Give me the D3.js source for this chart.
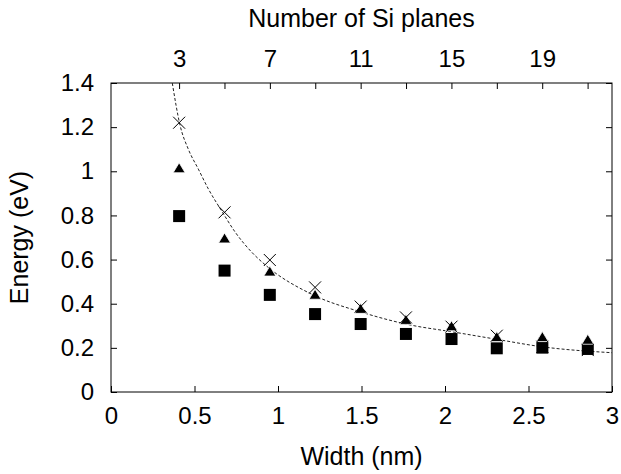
<!DOCTYPE html>
<html>
<head>
<meta charset="utf-8">
<script src="https://cdn.jsdelivr.net/npm/d3@7"></script>
<style>
  body { margin: 0; background: #fff; }
  text { font-family: "Liberation Sans", Arial, Helvetica, sans-serif; fill: #000; }
</style>
</head>
<body>
<div id="chart"></div>
<script>
// values
var planes = [3, 5, 7, 9, 11, 13, 15, 17, 19, 21];
var widths = [0.408, 0.68, 0.951, 1.222, 1.495, 1.766, 2.039, 2.31, 2.583, 2.855];
var crossE = [1.22, 0.814, 0.598, 0.474, 0.387, 0.338, 0.296, 0.255, 0.205, 0.19];
var triE   = [1.016, 0.698, 0.548, 0.443, 0.379, 0.329, 0.300, 0.251, 0.251, 0.239];
var sqE    = [0.797, 0.550, 0.440, 0.353, 0.308, 0.263, 0.240, 0.198, 0.201, 0.195];

// dashed fit curve
var fitW = [0.367, 0.413, 0.463, 0.523, 0.583, 0.663, 0.743, 0.842, 0.922, 1.21, 1.49, 1.79, 2.04, 2.3, 2.58, 3.0];
var fitE = [1.40, 1.21, 1.10, 1.01, 0.92, 0.82, 0.725, 0.634, 0.577, 0.44, 0.364, 0.304, 0.273, 0.24, 0.205, 0.178];

var xTicks = [0, 0.5, 1, 1.5, 2, 2.5, 3];
var yTicks = [0, 0.2, 0.4, 0.6, 0.8, 1, 1.2, 1.4];
var topLabels = [3, 7, 11, 15, 19];
var nmPerPlane = 0.1359;

var margin = {top: 83, right: 9, bottom: 82, left: 111},
    width = 621 - margin.left - margin.right,
    height = 474 - margin.top - margin.bottom;

var svg = d3.select("#chart").append("svg")
    .attr("width", 621)
    .attr("height", 474);

var chart = svg.append("g")
    .attr("transform", "translate(" + margin.left + "," + margin.top + ")");

var x = d3.scaleLinear().domain([0, 3]).range([0, width]);
var y = d3.scaleLinear().domain([0, 1.4]).range([height, 0]);
var xTop = d3.scaleLinear().domain([0, 3 / nmPerPlane]).range([0, width]);

var fmt = function(d) { return String(+d.toFixed(1)); };

function styleAxis(g) {
  g.select(".domain").remove();
  g.selectAll(".tick line").attr("stroke", "#000").attr("stroke-width", 1);
  g.selectAll(".tick text").style("font-size", "24px").attr("fill", "#000");
}

chart.append("g")
    .attr("transform", "translate(0," + height + ")")
    .call(d3.axisBottom(x).tickValues(xTicks).tickFormat(fmt).tickSizeInner(-6).tickSizeOuter(0).tickPadding(15))
    .call(styleAxis);

chart.append("g")
    .call(d3.axisLeft(y).tickValues(yTicks).tickFormat(fmt).tickSizeInner(-6).tickSizeOuter(0).tickPadding(17))
    .call(styleAxis);

chart.append("g")
    .attr("transform", "translate(" + width + ",0)")
    .call(d3.axisRight(y).tickValues(yTicks).tickFormat("").tickSizeInner(-6).tickSizeOuter(0))
    .call(styleAxis);

chart.append("g")
    .call(d3.axisTop(xTop).tickValues(planes)
      .tickFormat(function(d) { return topLabels.indexOf(d) >= 0 ? d : ""; })
      .tickSizeInner(-6).tickSizeOuter(0).tickPadding(16))
    .call(styleAxis);

chart.append("rect")
    .attr("width", width)
    .attr("height", height)
    .attr("fill", "none")
    .attr("stroke", "#000")
    .attr("stroke-width", 1);

chart.append("clipPath").attr("id", "clip")
  .append("rect").attr("width", width).attr("height", height);

var line = d3.line()
    .x(function(d) { return x(d); })
    .y(function(d, i) { return y(fitE[i]); })
    .curve(d3.curveMonotoneX);

chart.append("path")
    .attr("clip-path", "url(#clip)")
    .attr("d", line(fitW))
    .attr("fill", "none")
    .attr("stroke", "#222")
    .attr("stroke-width", 1)
    .attr("stroke-dasharray", "3,2");

chart.selectAll(".sq")
    .data(widths)
    .enter().append("rect")
    .attr("class", "sq")
    .attr("x", function(d) { return x(d) - 6; })
    .attr("y", function(d, i) { return y(sqE[i]) - 6; })
    .attr("width", 12)
    .attr("height", 12)
    .attr("fill", "#000");

chart.selectAll(".tri")
    .data(widths)
    .enter().append("path")
    .attr("class", "tri")
    .attr("d", function(d, i) {
      var cx = x(d), cy = y(triE[i]);
      return "M" + (cx - 6) + "," + (cy + 5) + "L" + (cx + 6) + "," + (cy + 5) + "L" + cx + "," + (cy - 5) + "Z";
    })
    .attr("fill", "#000")
    .attr("stroke", "#fff")
    .attr("stroke-width", 0.8);

chart.selectAll(".cross")
    .data(widths)
    .enter().append("path")
    .attr("class", "cross")
    .attr("d", function(d, i) {
      var cx = x(d), cy = y(crossE[i]);
      return "M" + (cx - 6) + "," + (cy - 6) + "L" + (cx + 6) + "," + (cy + 6) +
             "M" + (cx - 6) + "," + (cy + 6) + "L" + (cx + 6) + "," + (cy - 6);
    })
    .attr("fill", "none")
    .attr("stroke", "#000")
    .attr("stroke-width", 1);

svg.append("text")
    .attr("x", margin.left + width / 2)
    .attr("y", 465)
    .attr("text-anchor", "middle")
    .style("font-size", "25px")
    .text("Width (nm)");

svg.append("text")
    .attr("x", margin.left + width / 2)
    .attr("y", 27)
    .attr("text-anchor", "middle")
    .style("font-size", "25px")
    .text("Number of Si planes");

svg.append("text")
    .attr("transform", "translate(28," + (margin.top + height / 2) + ") rotate(-90)")
    .attr("text-anchor", "middle")
    .style("font-size", "25px")
    .text("Energy (eV)");
</script>
</body>
</html>
